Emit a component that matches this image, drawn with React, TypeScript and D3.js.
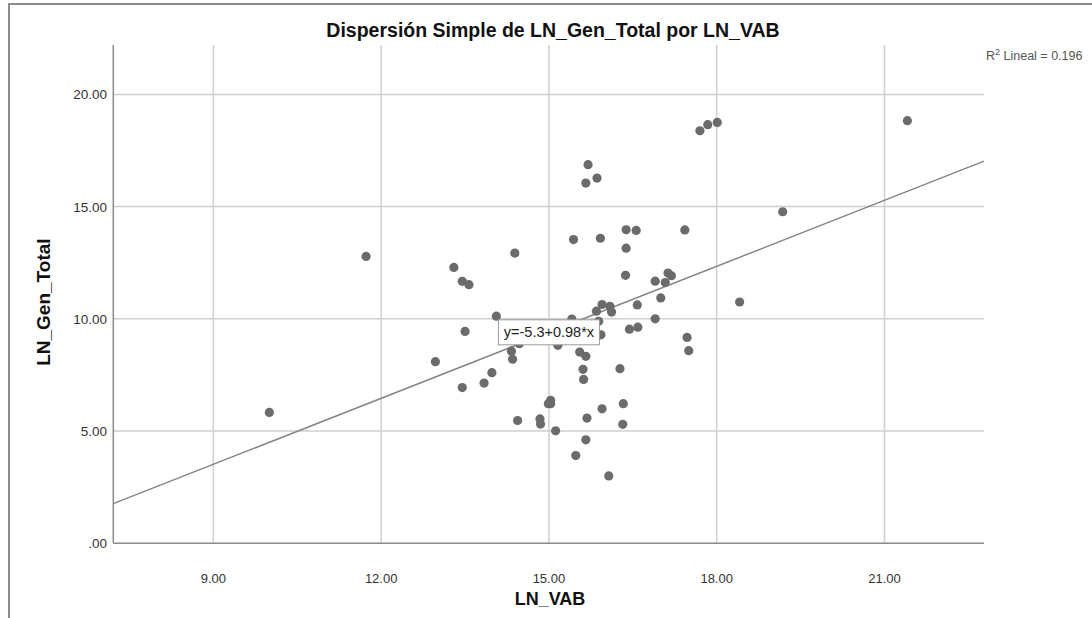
import * as d3 from "d3";

// LN_VAB (x) and LN_Gen_Total (y)
const lnVab = [
  11.73, 14.39, 13.30, 13.45, 13.57, 14.06, 13.50, 14.33, 14.35, 12.97,
  13.98, 13.84, 13.45, 15.03, 15.03, 14.99, 14.44, 14.84, 14.85, 15.12,
  14.47, 15.16, 15.70, 15.86, 15.66, 16.38, 16.56, 17.43, 15.44, 15.92,
  16.38, 16.37, 17.13, 17.19, 16.90, 17.08, 17.00, 16.58, 15.95, 16.09,
  16.12, 15.85, 15.41, 16.90, 16.44, 16.59, 15.93, 17.47, 17.50, 15.55,
  15.66, 15.61, 15.62, 16.27, 15.95, 16.33, 15.68, 16.32, 15.66, 15.48,
  16.07, 17.70, 17.84, 18.01, 21.41, 19.18, 18.41, 10.00, 15.89,
];
const lnGenTotal = [
  12.78, 12.93, 12.29, 11.67, 11.52, 10.12, 9.44, 8.56, 8.20, 8.09,
  7.60, 7.14, 6.94, 6.37, 6.22, 6.22, 5.47, 5.54, 5.31, 5.01,
  8.89, 8.82, 16.87, 16.27, 16.05, 13.97, 13.94, 13.96, 13.53, 13.59,
  13.15, 11.94, 12.04, 11.92, 11.68, 11.62, 10.93, 10.62, 10.64, 10.56,
  10.30, 10.34, 9.99, 10.00, 9.54, 9.63, 9.29, 9.17, 8.58, 8.52,
  8.33, 7.75, 7.30, 7.78, 5.99, 6.22, 5.58, 5.30, 4.61, 3.91,
  3.00, 18.38, 18.65, 18.75, 18.83, 14.77, 10.75, 5.83, 9.89,
];

const xTicks = [9, 12, 15, 18, 21];
const yTicks = [0, 5, 10, 15, 20];
const fitIntercept = -5.3;
const fitSlope = 0.98;
const r2 = 0.196;

const font = "'Liberation Sans', Arial, sans-serif";
const fmt = (v: number) => d3.format(".2f")(v).replace(/^0(?=\.)/, "");

export default function App() {
  const width = 1092;
  const height = 618;
  const left = 113.3, right = 984, top = 45, bottom = 543.3;

  const x = d3.scaleLinear().domain([7.21, 22.78]).range([left, right]);
  const y = d3.scaleLinear().domain([0, 22.2]).range([bottom, top]);

  const [x0, x1] = x.domain();
  const fit = d3.line<number>()
    .x(d => x(d))
    .y(d => y(fitIntercept + fitSlope * d));

  // equation label sits on the fit line at x = 15
  const boxX = 15;
  const boxY = fitIntercept + fitSlope * boxX;

  return (
    <svg width={width} height={height}
      style={{ position: "absolute", left: 0, top: 0, background: "#fff" }}>
      <rect x={9} y={4} width={1200} height={700} fill="none" stroke="#8c8c8c" strokeWidth={2} />

      <text x={553} y={37} textAnchor="middle" fontFamily={font} fontSize={19.5}
        fontWeight="bold" fill="#111">Dispersión Simple de LN_Gen_Total por LN_VAB</text>

      <g className="grid">
        {xTicks.map(t => (
          <line key={"gx" + t} x1={x(t)} x2={x(t)} y1={top} y2={bottom}
            stroke="#cfcfcf" strokeWidth={1.5} />
        ))}
        {yTicks.filter(t => t > 0).map(t => (
          <line key={"gy" + t} x1={left} x2={right} y1={y(t)} y2={y(t)}
            stroke="#cfcfcf" strokeWidth={1.5} />
        ))}
      </g>

      <line x1={left} x2={left} y1={top} y2={bottom} stroke="#8a8a8a" strokeWidth={1.5} />
      <line x1={left} x2={right} y1={bottom} y2={bottom} stroke="#8a8a8a" strokeWidth={1.5} />

      {xTicks.map(t => (
        <text key={"tx" + t} x={x(t)} y={583} textAnchor="middle" fontFamily={font}
          fontSize={13} fill="#333">{fmt(t)}</text>
      ))}
      {yTicks.map(t => (
        <text key={"ty" + t} x={107} y={y(t) + 5} textAnchor="end" fontFamily={font}
          fontSize={13.5} fill="#333">{fmt(t)}</text>
      ))}

      <text x={550} y={605} textAnchor="middle" fontFamily={font} fontSize={18}
        fontWeight="bold" fill="#111">LN_VAB</text>
      <text transform={`translate(50, ${(top + bottom) / 2 + 8}) rotate(-90)`}
        textAnchor="middle" fontFamily={font} fontSize={19} fontWeight="bold"
        fill="#111">LN_Gen_Total</text>

      <path d={fit([x0, x1]) ?? ""} fill="none" stroke="#858585" strokeWidth={1.5} />

      <g className="points">
        {lnVab.map((v, i) => (
          <circle key={i} cx={x(v)} cy={y(lnGenTotal[i])} r={4.6} fill="#6b6b6b" />
        ))}
      </g>

      <g transform={`translate(${x(boxX)}, ${y(boxY)})`}>
        <rect x={-50.5} y={-12.5} width={101} height={25} fill="#fff" stroke="#9a9a9a" strokeWidth={1} />
        <text x={0} y={5} textAnchor="middle" fontFamily={font} fontSize={14.5} fill="#222">
          y=-5.3+0.98*x
        </text>
      </g>

      <text x={986} y={60} fontFamily={font} fontSize={12.5} fill="#555">
        R<tspan dy={-5} fontSize={9}>2</tspan><tspan dy={5}> Lineal = {r2}</tspan>
      </text>
    </svg>
  );
}
